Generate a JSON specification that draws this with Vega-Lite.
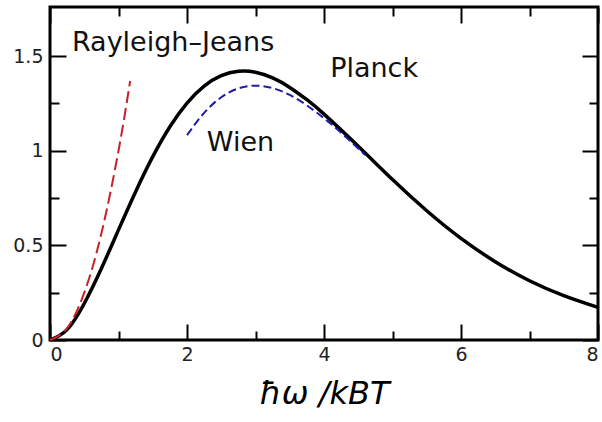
{
  "$schema": "https://vega.github.io/schema/vega-lite/v6.json",
  "width": 548,
  "height": 333,
  "autosize": {"type": "none"},
  "padding": {"left": 50, "top": 7, "right": 4, "bottom": 82},
  "background": "white",
  "config": {
    "view": {"stroke": "black", "strokeWidth": 3},
    "font": "DejaVu Sans",
    "axis": {"grid": false, "domain": false, "tickColor": "black", "tickWidth": 2, "labelFont": "DejaVu Sans", "labelFontSize": 19, "labelColor": "#222"}
  },
  "datasets": {
    "planck": [
      {"x": 0, "y": 0}, {"x": 0.25, "y": 0.055}, {"x": 0.5, "y": 0.193}, {"x": 0.75, "y": 0.378},
      {"x": 1, "y": 0.582}, {"x": 1.25, "y": 0.784}, {"x": 1.5, "y": 0.969}, {"x": 1.75, "y": 1.127},
      {"x": 2, "y": 1.252}, {"x": 2.25, "y": 1.342}, {"x": 2.5, "y": 1.397}, {"x": 2.75, "y": 1.420},
      {"x": 3, "y": 1.415}, {"x": 3.25, "y": 1.385}, {"x": 3.5, "y": 1.335}, {"x": 3.75, "y": 1.270},
      {"x": 4, "y": 1.194}, {"x": 4.5, "y": 1.024}, {"x": 5, "y": 0.848}, {"x": 5.5, "y": 0.683},
      {"x": 6, "y": 0.537}, {"x": 6.5, "y": 0.414}, {"x": 7, "y": 0.313}, {"x": 7.5, "y": 0.234},
      {"x": 8, "y": 0.172}
    ],
    "rj": [
      {"x": 0, "y": 0}, {"x": 0.25, "y": 0.0625}, {"x": 0.5, "y": 0.25}, {"x": 0.75, "y": 0.5625},
      {"x": 1, "y": 1}, {"x": 1.17, "y": 1.369}
    ],
    "wien": [
      {"x": 2, "y": 1.083}, {"x": 2.25, "y": 1.200}, {"x": 2.5, "y": 1.283}, {"x": 2.75, "y": 1.330},
      {"x": 3, "y": 1.344}, {"x": 3.25, "y": 1.331}, {"x": 3.5, "y": 1.295}, {"x": 3.75, "y": 1.240},
      {"x": 4, "y": 1.172}, {"x": 4.25, "y": 1.095}, {"x": 4.5, "y": 1.012}, {"x": 4.6, "y": 0.978}
    ],
    "labels": [
      {"x": 0.32, "y": 1.57, "label": "Rayleigh–Jeans"},
      {"x": 4.09, "y": 1.43, "label": "Planck"},
      {"x": 2.29, "y": 1.04, "label": "Wien"}
    ]
  },
  "resolve": {"axis": {"x": "independent", "y": "independent"}},
  "layer": [
    {
      "data": {"name": "planck"},
      "mark": {"type": "line", "color": "black", "strokeWidth": 3.5, "interpolate": "natural"},
      "encoding": {
        "x": {"field": "x", "type": "quantitative", "scale": {"domain": [0, 8], "nice": false},
          "axis": {"orient": "bottom", "values": [0, 2, 4, 6, 8], "tickSize": -16, "labelPadding": 21,
            "title": "ħω /kBT", "titleFont": "DejaVu Sans", "titleFontSize": 32, "titleFontWeight": "normal", "titleFontStyle": "italic", "titleColor": "black", "titlePadding": 14}},
        "y": {"field": "y", "type": "quantitative", "scale": {"domain": [0, 1.76], "nice": false},
          "axis": {"orient": "left", "values": [0, 0.5, 1, 1.5], "tickSize": -16, "labelPadding": 23, "labelExpr": "datum.value + ''", "title": null}}
      }
    },
    {
      "data": {"name": "rj"},
      "mark": {"type": "line", "color": "#c8202a", "strokeWidth": 2, "strokeDash": [12, 5], "interpolate": "natural"},
      "encoding": {
        "x": {"field": "x", "type": "quantitative", "axis": {"orient": "bottom", "values": [1, 3, 5, 7], "tickSize": -9, "labels": false, "title": null}},
        "y": {"field": "y", "type": "quantitative", "axis": {"orient": "left", "values": [0.25, 0.75, 1.25], "tickSize": -9, "labels": false, "title": null}}
      }
    },
    {
      "data": {"name": "wien"},
      "mark": {"type": "line", "color": "#1c1ca6", "strokeWidth": 2, "strokeDash": [8, 4], "interpolate": "natural"},
      "encoding": {
        "x": {"field": "x", "type": "quantitative", "axis": {"orient": "top", "values": [0, 2, 4, 6, 8], "tickSize": -16, "labels": false, "title": null}},
        "y": {"field": "y", "type": "quantitative", "axis": {"orient": "right", "values": [0, 0.5, 1, 1.5], "tickSize": -16, "labels": false, "title": null}}
      }
    },
    {
      "data": {"name": "labels"},
      "mark": {"type": "text", "align": "left", "baseline": "middle", "fontSize": 27, "font": "DejaVu Sans", "color": "#111"},
      "encoding": {
        "x": {"field": "x", "type": "quantitative", "axis": {"orient": "top", "values": [1, 3, 5, 7], "tickSize": -9, "labels": false, "title": null}},
        "y": {"field": "y", "type": "quantitative", "axis": {"orient": "right", "values": [0.25, 0.75, 1.25], "tickSize": -9, "labels": false, "title": null}},
        "text": {"field": "label"}
      }
    }
  ]
}
